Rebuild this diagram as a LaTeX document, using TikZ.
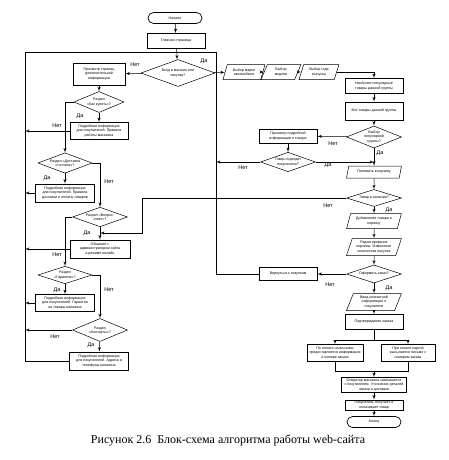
\documentclass[tikz,border=0pt]{standalone}
\usepackage{fontspec}
\setmainfont{Liberation Sans}
\newfontfamily\capfont{Liberation Serif}
\usepackage{tikz}
\usetikzlibrary{arrows,shapes.geometric}

\begin{document}
\begin{tikzpicture}[x=1pt,y=-1pt, >=latex', line width=0.5pt,
	box/.style={shape=rectangle,draw,line width=0.8pt,align=center,inner sep=0.5pt,minimum width=58pt,minimum height=15pt,font=\fontsize{3.6}{4.3}\selectfont},
	cond/.style={shape=diamond,draw,aspect=2.5,align=center,inner sep=0.5pt,minimum width=55pt,minimum height=19pt,font=\fontsize{3.6}{4.3}\selectfont},
	io/.style={shape=trapezium,trapezium left angle=70,trapezium right angle=110,trapezium stretches=true,draw,align=center,inner sep=0.5pt,minimum width=55pt,minimum height=15pt,font=\fontsize{3.6}{4.3}\selectfont},
	term/.style={shape=rectangle,rounded corners=5.5pt,draw,line width=0.7pt,minimum width=54pt,minimum height=11pt,inner sep=0.5pt,font=\fontsize{3.6}{4.3}\selectfont},
	lbl/.style={font=\fontsize{5.5}{6}\selectfont,inner sep=0}]
				\useasboundingbox (0,0) rectangle (448,460);
				\node[term] (start) at (175,18) {Начало};
				\node[box] (main) at (176,41) {Главная страница};
				\node[cond, minimum width=74pt, minimum height=27pt] (d0) at (178,73) {Вход в магазин или\\покупка?};
				\node[box, minimum width=52pt, minimum height=22pt] (p1) at (99,74) {Просмотр страниц\\дополнительной\\информации};
				\node[cond, minimum width=50pt, minimum height=21pt] (d1) at (99,102) {Раздел\\«Как купить»?};
				\node[box, minimum height=17pt] (b1) at (99,131) {Подробная информация\\для покупателей. Правила\\работы магазина};
				\node[cond, minimum width=54pt, minimum height=20pt] (d2) at (65,163) {Раздел «Доставка\\и оплата»?};
				\node[box, minimum width=59pt, minimum height=18pt] (b2) at (65,193) {Подробная информация\\для покупателей. Правила\\доставки и оплаты товаров};
				\node[cond] (d3) at (100,217) {Раздел «Вопрос-\\ответ»?};
				\node[box, minimum width=60pt, minimum height=18pt] (b3) at (100,249) {Общение с\\администратором сайта\\в режиме онлайн};
				\node[cond, minimum width=54pt, minimum height=17pt] (d4) at (65,275) {Раздел\\«Гарантия»?};
				\node[box, minimum width=59pt, minimum height=17pt] (b4) at (65,303) {Подробная информация\\для покупателей. Гарантия\\на товары магазина};
				\node[cond, minimum height=23pt] (d5) at (100,330) {Раздел\\«Контакты»?};
				\node[box, minimum width=59pt, minimum height=18pt] (b5) at (99,361) {Подробная информация\\для покупателей. Адреса и\\телефоны магазина};
				\node[io, minimum width=42pt] (s1) at (244,72) {Выбор марки\\автомобиля};
				\node[io, minimum width=40pt] (s2) at (281,72) {Выбор\\модели};
				\node[io, minimum width=40pt] (s3) at (319,72) {Выбор года\\выпуска};
				\node[box] (r1) at (374,86) {Наиболее популярные\\товары данной группы};
				\node[box, minimum height=18pt] (r2) at (374,111) {Все товары данной группы};
				\node[cond, minimum height=22pt] (d6) at (374,137) {Выбор\\популярной\\группы?};
				\node[box, minimum height=14pt] (r3) at (288,136) {Просмотр подробной\\информации о товаре};
				\node[cond] (d7) at (288,162) {Товар подходит\\покупателю?};
				\node[io, minimum height=12pt] (s4) at (374,172) {Положить в корзину};
				\node[cond, minimum height=17pt] (d8) at (374,198) {Товар в наличии?};
				\node[io] (s5) at (374,221) {Добавление товара в\\корзину};
				\node[io, minimum height=17pt] (s6) at (374,247) {Редактирование\\корзины. Изменение\\количества покупок};
				\node[cond, minimum height=18pt] (d9) at (374,274) {Оформить заказ?};
				\node[box, minimum height=13pt] (r4) at (288,274) {Вернуться к покупкам};
				\node[io, minimum height=17pt] (s7) at (374,302) {Ввод контактной\\информации о\\покупателе};
				\node[box] (r5) at (374,322) {Подтверждение заказа};
				\node[box, minimum width=56pt, minimum height=17pt] (r6) at (335,353) {По оплате наличными\\предоставляется информация\\о номере заказа};
				\node[box, minimum width=54pt, minimum height=17pt] (r7) at (408,353) {При оплате картой\\высылается письмо с\\номером заказа};
				\node[box, minimum width=65pt] (r8) at (374,385) {Оператор магазина связывается\\с покупателем. Уточнение деталей\\заказа и доставки};
				\node[box, minimum height=10pt] (r9) at (374,405) {Покупатель получает и\\оплачивает товар};
				\node[term] (end) at (374,422) {Конец};
				\coordinate (jn) at (178,52);
				\coordinate (lp) at (25,52);
				\coordinate (rp) at (216,52);
				\coordinate (cq) at (142,233);
				\coordinate (sp) at (374,340);
				\coordinate (jm) at (374,371);
				\draw[->] (start) to (main);
				\draw[->] (main) to (d0);
				\draw[->] (d0) to (p1);
				\draw[->] (p1) to (d1);
				\draw[->] (d1) to (b1);
				\draw[->] (d1.west) -| (d2.north);
				\draw[->] (d2) to (b2);
				\draw[->] (d2.east) -| (d3.north);
				\draw[->] (d3) to (b3);
				\draw[->] (d3.west) -| (d4.north);
				\draw[->] (d4) to (b4);
				\draw[->] (d4.east) -| (d5.north);
				\draw[->] (d5) to (b5);
				\draw (b5.west) -| (lp) -- (jn);
				\draw[->] (b1.west) -- (b1.west -| lp);
				\draw[->] (b2.west) -- (b2.west -| lp);
				\draw[->] (b3.west) -- (b3.west -| lp);
				\draw[->] (b4.west) -- (b4.west -| lp);
				\draw[->] (d5.west) -- (d5.west -| lp);
				\draw[->] (d0) to (s1);
				\draw[->] (s1) to (s2);
				\draw[->] (s2) to (s3);
				\draw[->] (s3.east) -| (r1.north);
				\draw[->] (r1) to (r2);
				\draw[->] (r2) to (d6);
				\draw[->] (d6) to (r3);
				\draw[->] (r3) to (d7);
				\draw[->] (d7.west) -- (d7.west -| rp);
				\draw[->] (d7.east) -- (d7.east -| d6.south);
				\draw[->] (d6) to (s4);
				\draw[->] (s4) to (d8);
				\draw[->] (d8.west) -| (cq) -- (cq -| b3.north);
				\draw[->] (d8) to (s5);
				\draw[->] (s5) to (s6);
				\draw[->] (s6) to (d9);
				\draw[->] (d9) to (r4);
				\draw (r4.west) -| (rp) -- (jn);
				\draw[->] (d9) to (s7);
				\draw[->] (s7) to (r5);
				\draw (r5) -- (sp);
				\draw[->] (sp) -| (r6.north);
				\draw[->] (sp) -| (r7.north);
				\draw (r6.south) |- (jm);
				\draw (r7.south) |- (jm);
				\draw[->] (jm) -- (r8);
				\draw[->] (r8) to (r9);
				\draw[->] (r9) to (end);
				\node[lbl] at (135,65) {Нет};
				\node[lbl] at (204,61) {Да};
				\node[lbl] at (80,116) {Да};
				\node[lbl] at (57,126) {Нет};
				\node[lbl] at (47,178) {Да};
				\node[lbl] at (109,182) {Нет};
				\node[lbl] at (87,233) {Да};
				\node[lbl] at (57,255) {Нет};
				\node[lbl] at (57,290) {Да};
				\node[lbl] at (109,290) {Нет};
				\node[lbl] at (55,337) {Нет};
				\node[lbl] at (91,345) {Да};
				\node[lbl] at (333,144) {Нет};
				\node[lbl] at (380,153) {Да};
				\node[lbl] at (243,168) {Нет};
				\node[lbl] at (328,165) {Да};
				\node[lbl] at (328,206) {Нет};
				\node[lbl] at (389,210) {Да};
				\node[lbl] at (330,285) {Нет};
				\node[lbl] at (389,288) {Да};
				\node[font=\capfont\fontsize{12}{14}\selectfont] (cap) at (228,440) {Рисунок 2.6\ \ Блок-схема алгоритма работы web-сайта};
			\end{tikzpicture}
\end{document}
